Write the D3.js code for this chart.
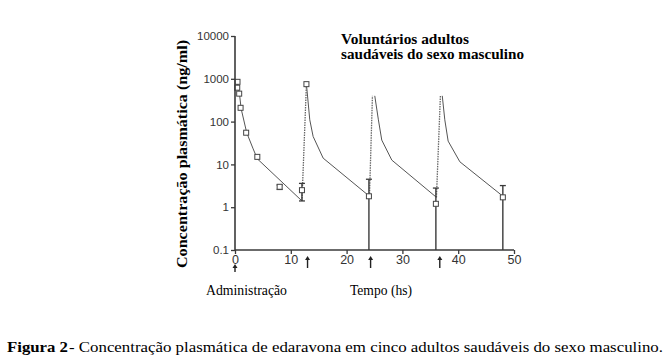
<!DOCTYPE html>
<html><head><meta charset="utf-8">
<script src="https://cdn.jsdelivr.net/npm/d3@7"></script>
<style>body{margin:0;background:#fff}svg{display:block}</style>
</head><body><svg id="c" width="670" height="364"></svg>
<script>
// ---- data ----
const xTicks = [0, 10, 20, 30, 40, 50];
const yTicks = [0.1, 1, 10, 100, 1000, 10000];
const yTickLabels = ["0.1", "1", "10", "100", "1000", "10000"];
// fitted decay curves per dosing interval
const decayTimes = [[0.3, 0.8, 1.1, 2.1, 3.2, 4, 12], [12.8, 13.4, 14, 15.8, 24.1], [24.7, 25.7, 26.3, 28.1, 36.1], [36.9, 37.6, 38.2, 40.3, 47.8]];
const decayValues = [[950, 450, 200, 55, 24, 13.5, 1.4], [750, 110, 45, 14, 1.8], [800, 110, 37, 12.6, 1.7], [800, 110, 35, 11.5, 1.9]];
// infusion rises (dotted)
const riseTimes = [[12, 12.8], [24.1, 24.7], [36.1, 36.9]];
const riseValues = [[1.4, 750], [1.8, 800], [1.7, 800]];
// observed means
const obsTimes = [0.45, 0.4, 0.75, 1, 2, 4, 8, 12, 12.8, 24, 36, 48];
const obsValues = [850, 620, 450, 210, 55, 15, 3.0, 2.5, 750, 1.8, 1.2, 1.7];
// error bars
const errTimes = [8, 12, 24, 36, 48];
const errHigh = [3.3, 3.6, 4.5, 2.8, 3.2];
const errLow = [2.6, 1.4, 0.1, 0.1, 0.1];
const errLowCap = [true, true, false, false, false];
// dose arrows
const arrowTimes = [0, 13, 24.3, 36.7];

const svg = d3.select("#c");
const x = d3.scaleLinear().domain([0, 50]).range([235, 514]);
const y = d3.scaleLog().domain([0.1, 10000]).range([250, 36]);
const ink = "#3a3a3a";

// curves
const line = d3.line().x(d => x(d[0])).y(d => y(d[1]));
decayTimes.forEach((ts, i) => {
  svg.append("path").attr("d", line(ts.map((t, j) => [t, decayValues[i][j]])))
    .attr("fill", "none").attr("stroke", "#555").attr("stroke-width", 1);
});
riseTimes.forEach((ts, i) => {
  svg.append("path").attr("d", line(ts.map((t, j) => [t, riseValues[i][j]])))
    .attr("fill", "none").attr("stroke", "#666").attr("stroke-width", 1.3)
    .attr("stroke-dasharray", "1.5,1");
});

// white box behind the legend text (hides peak tops)
svg.append("rect").attr("x", x(17)).attr("y", 0)
  .attr("width", x(50) - x(17)).attr("height", y(400)).attr("fill", "#fff");

// error bars
errTimes.forEach((t, i) => {
  const xi = x(t);
  svg.append("line").attr("x1", xi).attr("x2", xi).attr("y1", y(errHigh[i])).attr("y2", y(errLow[i]))
    .attr("stroke", ink).attr("stroke-width", 1.4);
  svg.append("line").attr("x1", xi - 3).attr("x2", xi + 3).attr("y1", y(errHigh[i])).attr("y2", y(errHigh[i]))
    .attr("stroke", ink).attr("stroke-width", 1.3);
  if (errLowCap[i]) svg.append("line").attr("x1", xi - 3).attr("x2", xi + 3).attr("y1", y(errLow[i])).attr("y2", y(errLow[i]))
    .attr("stroke", ink).attr("stroke-width", 1.3);
});

// squares
svg.selectAll("rect.pt").data(obsTimes.map((t, i) => [t, obsValues[i]])).enter().append("rect")
  .attr("class", "pt").attr("x", d => x(d[0]) - 2.5).attr("y", d => y(d[1]) - 2.5)
  .attr("width", 5).attr("height", 5).attr("fill", "#fff").attr("stroke", "#444").attr("stroke-width", 1);

// axes
const sans = "'Liberation Sans', Arial, sans-serif";
const yAxis = svg.append("g").attr("transform", "translate(235,0)")
  .call(d3.axisLeft(y).tickValues(yTicks).tickFormat((d, i) => yTickLabels[i]).tickSize(4).tickPadding(2).tickSizeOuter(0));
const xAxis = svg.append("g").attr("transform", "translate(0,250)")
  .call(d3.axisBottom(x).tickValues(xTicks).tickSize(4).tickPadding(1).tickSizeOuter(0));
[yAxis, xAxis].forEach(g => {
  g.attr("font-family", sans);
  g.select(".domain").attr("stroke", ink).attr("stroke-width", 1.6);
  g.selectAll(".tick line").attr("stroke", ink).attr("stroke-width", 1.3);
  g.selectAll("text").attr("font-family", sans).attr("font-size", 11.5).attr("fill", "#333");
});
yAxis.select(".domain").attr("d", `M0,${y(10000)}V${y(0.1)}`);
xAxis.select(".domain").attr("d", `M${x(0)},0H${x(50)}`);
xAxis.selectAll("text").attr("font-size", 12.5);

// dose arrows
arrowTimes.forEach((t, i) => {
  const xi = x(t);
  const top = i === 0 ? 264 : 256, bot = i === 0 ? 272 : 268;
  svg.append("line").attr("x1", xi).attr("x2", xi).attr("y1", top + 2).attr("y2", bot)
    .attr("stroke", "#222").attr("stroke-width", 1.4);
  svg.append("path").attr("d", `M${xi},${top}L${xi - 2.5},${top + 4}L${xi + 2.5},${top + 4}Z`).attr("fill", "#222");
});

// texts
const serif = "'Liberation Serif', 'Times New Roman', serif";
svg.append("text").attr("x", 341).attr("y", 44).attr("font-family", serif).attr("font-weight", "bold")
  .attr("font-size", 14).attr("textLength", 128).attr("lengthAdjust", "spacingAndGlyphs").text("Voluntários adultos");
svg.append("text").attr("x", 341).attr("y", 59).attr("font-family", serif).attr("font-weight", "bold")
  .attr("font-size", 14).attr("textLength", 183).attr("lengthAdjust", "spacingAndGlyphs").text("saudáveis do sexo masculino");
svg.append("text").attr("transform", "translate(187,268) rotate(-90)").attr("font-family", serif).attr("font-weight", "bold")
  .attr("font-size", 15.5).attr("textLength", 228).attr("lengthAdjust", "spacingAndGlyphs").text("Concentração plasmática (ng/ml)");
svg.append("text").attr("x", 206).attr("y", 295).attr("font-family", serif)
  .attr("font-size", 14).attr("textLength", 81).attr("lengthAdjust", "spacingAndGlyphs").text("Administração");
svg.append("text").attr("x", 350).attr("y", 295).attr("font-family", serif)
  .attr("font-size", 14).attr("textLength", 62).attr("lengthAdjust", "spacingAndGlyphs").text("Tempo (hs)");
svg.append("text").attr("x", 7).attr("y", 352).attr("font-family", serif).attr("font-weight", "bold")
  .attr("font-size", 14.5).attr("textLength", 61).attr("lengthAdjust", "spacingAndGlyphs").text("Figura 2");
svg.append("text").attr("x", 69).attr("y", 352).attr("font-family", serif)
  .attr("font-size", 14.5).attr("textLength", 594).attr("lengthAdjust", "spacingAndGlyphs")
  .text("- Concentração plasmática de edaravona em cinco adultos saudáveis do sexo masculino.");
</script></body></html>
